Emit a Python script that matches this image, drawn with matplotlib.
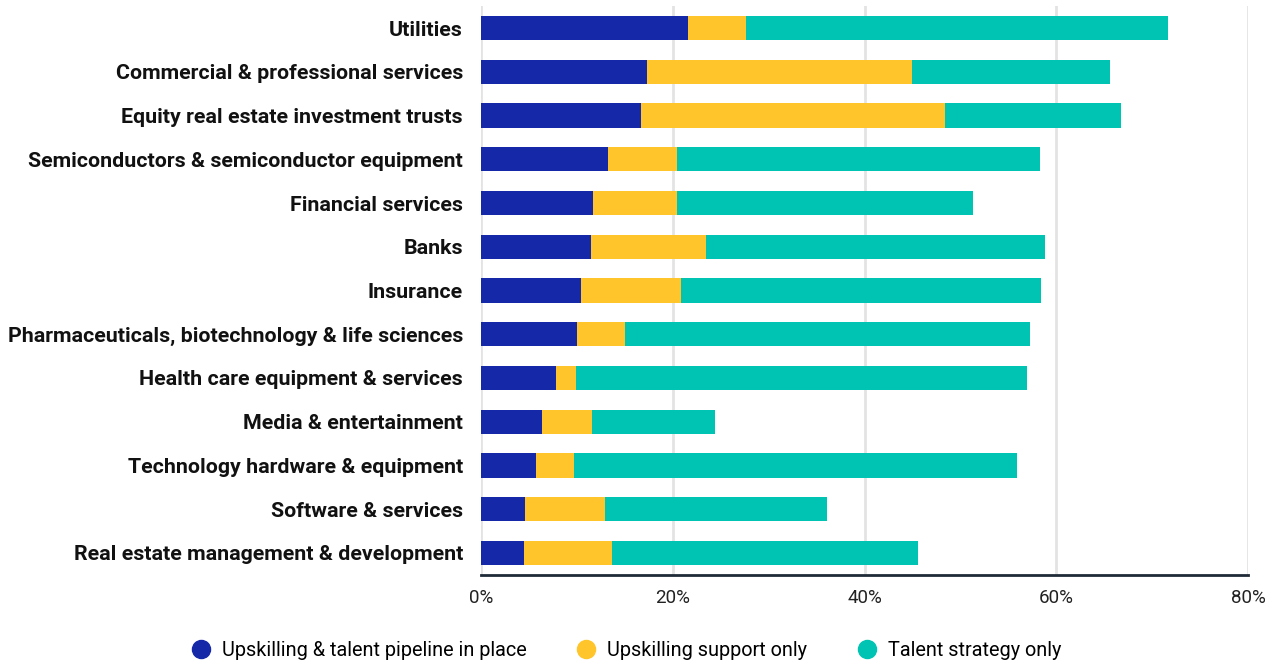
import numpy as np
import matplotlib.pyplot as plt
from matplotlib.lines import Line2D

plt.rcParams['font.family'] = ['Roboto', 'DejaVu Sans']

categories = [
    "Utilities",
    "Commercial & professional services",
    "Equity real estate investment trusts",
    "Semiconductors & semiconductor equipment",
    "Financial services",
    "Banks",
    "Insurance",
    "Pharmaceuticals, biotechnology & life sciences",
    "Health care equipment & services",
    "Media & entertainment",
    "Technology hardware & equipment",
    "Software & services",
    "Real estate management & development",
]

# segment widths in percent
pipeline = [21.6, 17.3, 16.7, 13.2, 11.7, 11.5, 10.4, 10.0, 7.8, 6.4, 5.7, 4.6, 4.5]
support_only = [6.0, 27.7, 31.7, 7.2, 8.7, 12.0, 10.5, 5.0, 2.1, 5.2, 4.0, 8.3, 9.2]
strategy_only = [44.1, 20.6, 18.4, 37.9, 30.9, 35.3, 37.5, 42.3, 47.0, 12.8, 46.2, 23.2, 31.9]

series_names = ["Upskilling & talent pipeline in place", "Upskilling support only", "Talent strategy only"]
colors = ["#1428A8", "#FFC52A", "#00C4B3"]

fig = plt.figure(figsize=(12.78, 6.64), dpi=100)
ax = fig.add_axes([481 / 1278, 89 / 664, 767 / 1278, 569 / 664])

y = np.arange(len(categories))
left = np.zeros(len(categories))
for vals, c in zip([pipeline, support_only, strategy_only], colors):
    ax.barh(y, vals, left=left, height=0.55, color=c, zorder=3)
    left += np.array(vals)

ax.set_ylim(12.503, -0.503)
ax.set_xlim(0, 80)
ax.set_xticks([0, 20, 40, 60, 80])
ax.set_xticklabels(["0%", "20%", "40%", "60%", "80%"], fontsize=13.5, color="#222222")
ax.set_yticks(y)
ax.set_yticklabels(categories, fontsize=15.4, fontweight="bold", color="#111111")
ax.tick_params(axis="both", length=0)
ax.tick_params(axis="x", pad=10)
ax.tick_params(axis="y", pad=13)

ax.grid(axis="x", color="#E3E3E3", linewidth=2, zorder=0)
for s in ["top", "right", "left"]:
    ax.spines[s].set_visible(False)
ax.spines["bottom"].set_color("#1E2A38")
ax.spines["bottom"].set_linewidth(2)

handles = [Line2D([0], [0], marker="o", linestyle="", markersize=13,
                  markerfacecolor=c, markeredgecolor=c) for c in colors]
fig.legend(handles, series_names, loc="center", bbox_to_anchor=(0.486, 0.02),
           ncol=3, frameon=False, fontsize=14.3, handletextpad=0.05, columnspacing=2.0)

fig.savefig("out.png", dpi=100)
